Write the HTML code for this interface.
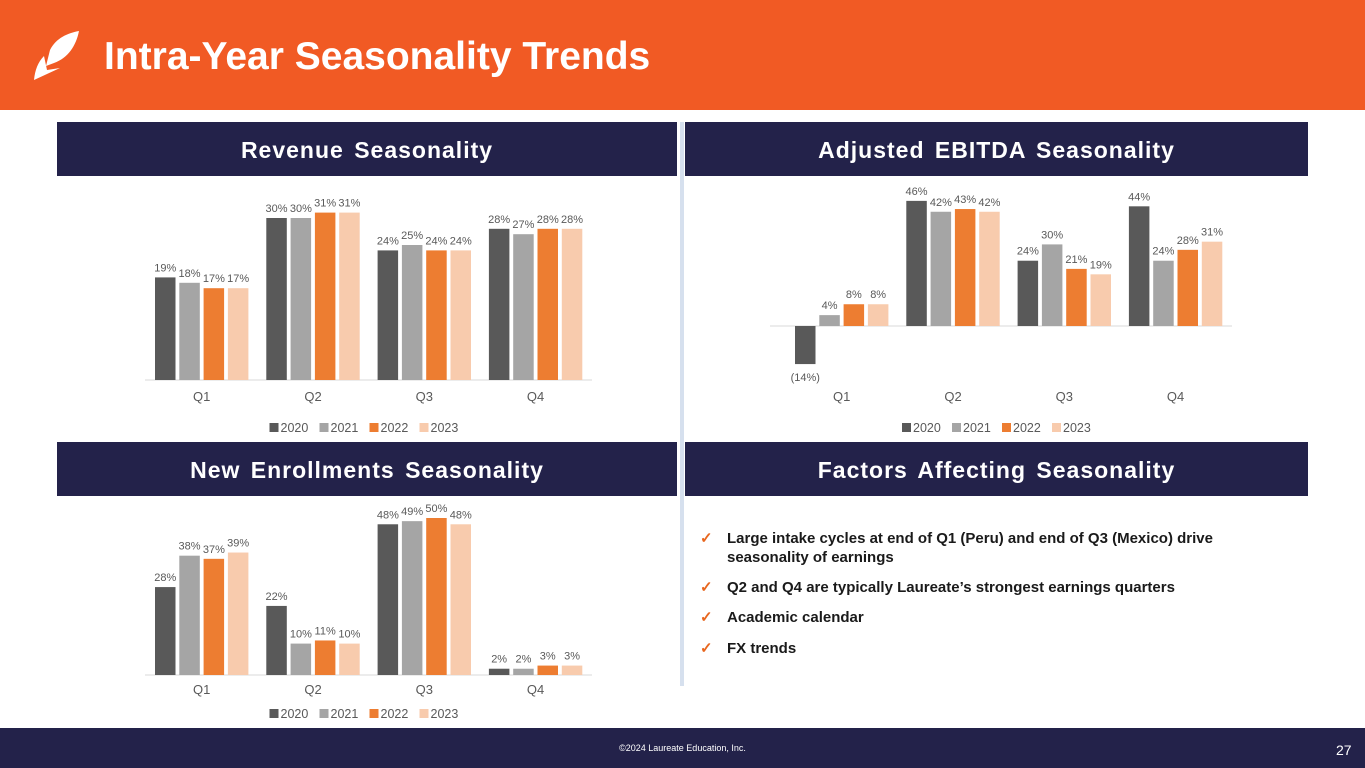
<!DOCTYPE html>
<html><head><meta charset="utf-8">
<style>
html,body{margin:0;padding:0;width:1365px;height:768px;overflow:hidden;background:#fff;font-family:"Liberation Sans",Arial,sans-serif;}
.abs{position:absolute;}
.hdr{position:absolute;left:0;top:0;width:1365px;height:110px;background:#F15A24;}
.title{position:absolute;left:104px;top:35px;font-size:39px;font-weight:bold;color:#fff;line-height:44px;}
.sec{position:absolute;background:#23224A;color:#fff;font-weight:bold;font-size:23px;letter-spacing:1px;word-spacing:3px;text-align:center;line-height:56px;height:54px;}
.foot{position:absolute;left:0;top:728px;width:1365px;height:40px;background:#23224A;}
.bul{position:absolute;left:700px;font-size:15px;font-weight:bold;color:#1a1a1a;line-height:19px;}
.bul span.ck{position:absolute;left:0;top:0;color:#E8661E;}
.bul span.t{position:absolute;left:27px;top:0;width:565px;}
</style></head>
<body>
<div class="hdr"></div>
<svg class="abs" style="left:30px;top:30px" width="50" height="52">
<path d="M20 20 C26 8 38 3 49 1 C46 16 38 28 24 33 L16 36 L20 20 Z" fill="#fff"/>
<path d="M14 26 L17 40 L30 38 L4 50 C5 40 8 32 14 26 Z" fill="#fff"/>
</svg>
<div class="title">Intra-Year Seasonality Trends</div>

<div class="sec" style="left:57px;top:122px;width:620px">Revenue Seasonality</div>
<div class="sec" style="left:685px;top:122px;width:623px">Adjusted EBITDA Seasonality</div>
<div class="sec" style="left:57px;top:442px;width:620px">New Enrollments Seasonality</div>
<div class="sec" style="left:685px;top:442px;width:623px">Factors Affecting Seasonality</div>
<div class="abs" style="left:680px;top:122px;width:4px;height:564px;background:#D6E0EE"></div>

<div class="bul" style="top:529px"><span class="ck">✓</span><span class="t">Large intake cycles at end of Q1 (Peru) and end of Q3 (Mexico) drive seasonality of earnings</span></div>
<div class="bul" style="top:578px"><span class="ck">✓</span><span class="t">Q2 and Q4 are typically Laureate’s strongest earnings quarters</span></div>
<div class="bul" style="top:608px"><span class="ck">✓</span><span class="t">Academic calendar</span></div>
<div class="bul" style="top:639px"><span class="ck">✓</span><span class="t">FX trends</span></div>

<div class="foot"></div>
<div class="abs" style="left:0;top:743px;width:1365px;text-align:center;color:#fff;font-size:9px">©2024 Laureate Education, Inc.</div>
<div class="abs" style="left:1336px;top:742px;color:#fff;font-size:14px">27</div>

<svg id="charts" class="abs" style="left:0;top:0" width="1365" height="768"></svg>
<script>
const categories = ["Q1","Q2","Q3","Q4"];
const years = ["2020","2021","2022","2023"];
const revenue2020 = [19,30,24,28];
const revenue2021 = [18,30,25,27];
const revenue2022 = [17,31,24,28];
const revenue2023 = [17,31,24,28];
const ebitda2020 = [-14,46,24,44];
const ebitda2021 = [4,42,30,24];
const ebitda2022 = [8,43,21,28];
const ebitda2023 = [8,42,19,31];
const enroll2020 = [28,22,48,2];
const enroll2021 = [38,10,49,2];
const enroll2022 = [37,11,50,3];
const enroll2023 = [39,10,48,3];
const colors = ["#595959","#A5A5A5","#ED7D31","#F8CBAD"];
const NS="http://www.w3.org/2000/svg";
const svg=document.getElementById('charts');
function mk(tag,attrs){const e=document.createElementNS(NS,tag);for(const k in attrs)e.setAttribute(k,attrs[k]);svg.appendChild(e);return e;}
function fmt(v){return v<0?"("+(-v)+"%)":v+"%";}
function drawChart(name,series,x0,axisL,axisR,base,scale,catY,legY){
  const line=mk('line',{x1:axisL,x2:axisR,y1:base,y2:base,stroke:'#D9D9D9','stroke-width':1});
  
  
  const gx=i=>x0+i*111.3;
  const bx=(i,s)=>gx(i)+s*24.3;
  const bw=20.5;
  const y=v=>base-v*scale;
  series.forEach((arr,s)=>{
    arr.forEach((v,i)=>{
      const top=Math.min(y(v),base),h=Math.abs(y(v)-base);
      const r=mk('rect',{x:bx(i,s),y:top,width:bw,height:h,fill:colors[s]});
      
      
      const ly=v<0?y(v)+17:y(v)-6;
      const t=mk('text',{x:bx(i,s)+bw/2,y:ly,'text-anchor':'middle','font-size':11,fill:'#595959'});
      t.textContent=fmt(v);
      
      
    });
  });
  categories.forEach((c,i)=>{
    const t=mk('text',{x:gx(i)+46.7,y:catY,'text-anchor':'middle','font-size':13,fill:'#595959'});
    t.textContent=c;
    
    
  });
  const lx=(axisL+axisR)/2-99;
  years.forEach((yr,s)=>{
    const px=lx+s*50;
    const r=mk('rect',{x:px,y:legY-9,width:9,height:9,fill:colors[s]});
    
    
    const t=mk('text',{x:px+11,y:legY,'font-size':12.5,fill:'#595959'});
    t.textContent=yr;
    
    
  });
}
drawChart('revenue',[revenue2020,revenue2021,revenue2022,revenue2023],155,145,592,380,5.4,401,432);
drawChart('ebitda',[ebitda2020,ebitda2021,ebitda2022,ebitda2023],795,770,1232,326,2.72,401,432);
drawChart('enrollments',[enroll2020,enroll2021,enroll2022,enroll2023],155,145,592,675,3.14,694,718);
</script>
</body></html>
